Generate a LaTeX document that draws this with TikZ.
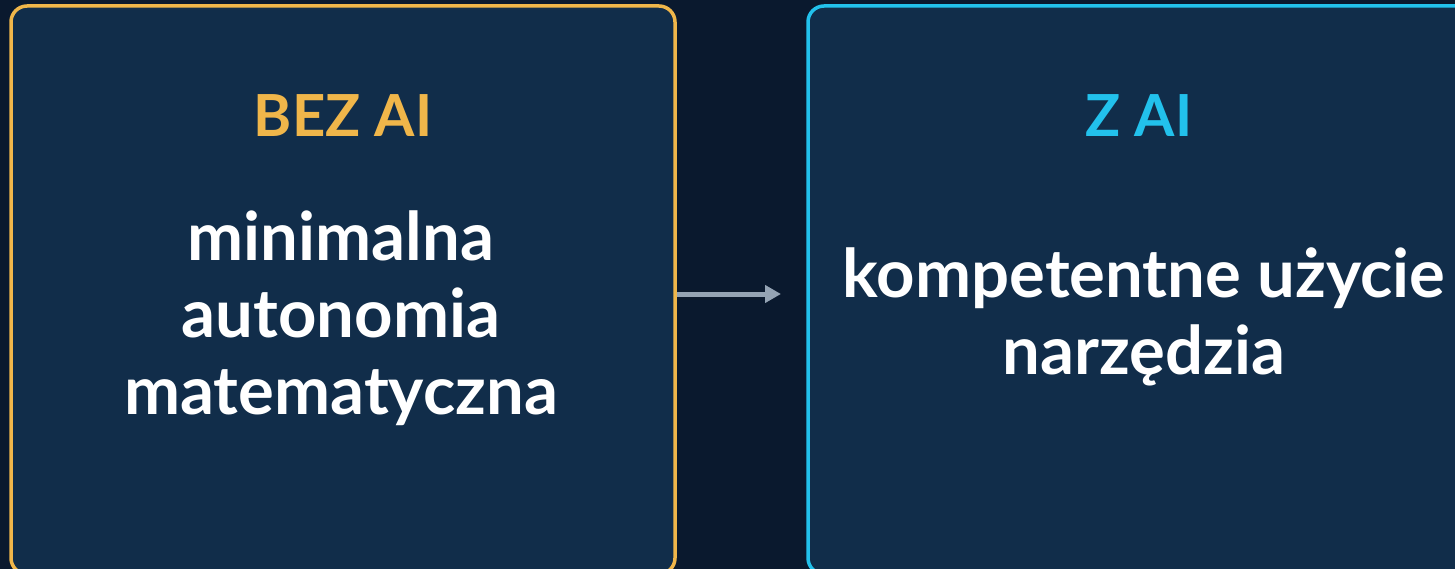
\documentclass[tikz,border=0pt]{standalone}
\usepackage{fontspec}
\setmainfont{Lato}
\usetikzlibrary{arrows.meta,calc}
\definecolor{pagebg}{HTML}{0A192E}
\definecolor{boxbg}{HTML}{112D4A}
\definecolor{amber}{HTML}{F0B64A}
\definecolor{skyline}{HTML}{22C1EC}
\definecolor{slate}{HTML}{94A3B4}
\tikzset{>={Triangle[length=16pt,width=17pt]}}

\begin{document}
\begin{tikzpicture}[x=1pt,y={(0,-1pt)},
    panel/.style={draw,line width=3.5pt,fill=boxbg,rounded corners=16pt,minimum width=664pt,minimum height=568pt},
    title/.style={anchor=base,font=\fontsize{58}{70}\selectfont\bfseries},
    body/.style={align=center,text=white,font=\fontsize{67}{77}\selectfont\bfseries}]
        \fill[pagebg] (0,0) rectangle (1455,569);
        \useasboundingbox (0,0) rectangle (1455,569);
        \node[panel,draw=amber] (bez) at (343,290) {};
        \node[panel,draw=skyline] (zai) at (1140,290) {};
        \node[title,text=amber] (beztitle) at (343,137) {BEZ AI};
        \node[title,text=skyline] (zaititle) at (1139,137) {Z AI};
        \node[body] (beztext) at (341,318) {minimalna\\autonomia\\matematyczna};
        \node[body] (zaitext) at (1144,317) {kompetentne użycie\\narzędzia};
        \coordinate (tip) at (781,294);
        \draw[->,slate,line width=5pt] (bez.east |- tip) -- (tip);
    \end{tikzpicture}
\end{document}
